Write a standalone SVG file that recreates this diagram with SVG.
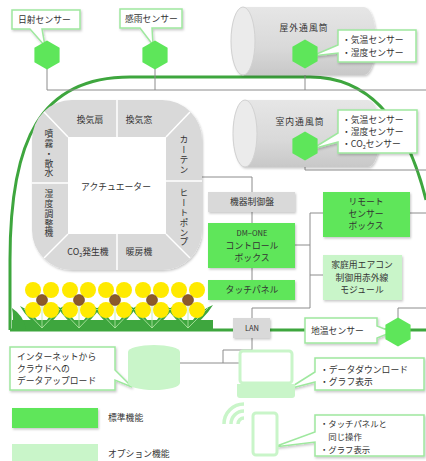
<svg xmlns="http://www.w3.org/2000/svg" width="426" height="461" viewBox="0 0 426 461">
<defs>
  <filter id="sh" x="-10%" y="-10%" width="130%" height="140%">
    <feDropShadow dx="1" dy="1.5" stdDeviation="1" flood-color="#000" flood-opacity="0.22"/>
  </filter>
  <linearGradient id="tube" x1="0" y1="0" x2="0" y2="1">
    <stop offset="0" stop-color="#e6e6e6"/>
    <stop offset="0.6" stop-color="#d9d9d9"/>
    <stop offset="1" stop-color="#c8c8c8"/>
  </linearGradient>
  <polygon id="hex" points="0,-14.5 12.6,-7.2 12.6,7.2 0,14.5 -12.6,7.2 -12.6,-7.2"/>
</defs>
<style>
  text { font-family: "Noto Sans CJK JP", "Noto Sans", sans-serif; font-size: 8.8px; fill: #333; }
  .c { text-anchor: middle; }
  .vt { writing-mode: vertical-rl; text-anchor: middle; letter-spacing: 1px; }
  .wire { fill: none; stroke: #8c8c8c; stroke-width: 1; }
  .house { fill: none; stroke: #3ea63e; stroke-width: 3; }
  .std { fill: #5ee65a; }
  .opt { fill: #c9f5c9; }
  .gray { fill: #d9d9d9; }
  .callout { fill: #fff; stroke: #9ee89e; stroke-width: 1.5; }
  .hex { fill: #5ee65a; }
  .leaf { fill: #3ea63e; }
  .vein { stroke: #b8e8a8; stroke-width: 0.8; fill: none; }
  .petal { fill: #ffea00; }
  .eye { fill: #8b5a2b; stroke: #6b4220; stroke-width: 0.6; }
  .small { font-size: 8.4px; }
</style>

<!-- greenhouse outline and ground line -->
<g id="greenhouse">
  <path class="house" d="M10,330 L10,260 C10,140 40,77 130,77 L310,77 C365,77 405,115 426,200"/>
  <path class="house" d="M10,330 H426"/>
</g>

<!-- wiring -->
<g id="connectors" class="wire">
  <path d="M47,69 V90 H426"/>
  <path d="M155,69 V90"/>
  <path d="M305,68 V90"/>
  <path d="M305,160 V170 H426"/>
  <path d="M410,213 H426"/>
  <path d="M398,318 V308 H426"/>
  <path d="M165,177 H252 V192"/>
  <path d="M252,212 V223"/>
  <path d="M252,268 V280"/>
  <path d="M295,245 H310"/>
  <path d="M310,213 V308 H252 V318"/>
  <path d="M310,213 H323"/>
  <path d="M310,275 H323"/>
  <path d="M252,338 V350 H223 V363"/>
  <path d="M180,363 H240"/>
</g>

<!-- outdoor ventilation tube -->
<g id="outdoor-tube">
  <path d="M243,7 H364 A12,34 0 0 1 364,75 H243 A12,34 0 0 1 243,7 Z" fill="url(#tube)" filter="url(#sh)"/>
  <ellipse cx="243" cy="41" rx="12" ry="34" fill="#ebebeb" stroke="#d2d2d2" stroke-width="1"/>
  <text class="c" x="304" y="31" style="letter-spacing:1px">屋外通風筒</text>
</g>
<g id="outdoor-sensors">
  <path class="callout" filter="url(#sh)" d="M338,30 H416 V62 H338 V53 L312,56 L338,45 Z"/>
  <text x="342" y="43">・気温センサー</text>
  <text x="342" y="56">・湿度センサー</text>
  <use href="#hex" class="hex" x="305" y="54"/>
</g>

<!-- indoor ventilation tube -->
<g id="indoor-tube">
  <path d="M245,100 H368 A12,33.5 0 0 1 368,167 H245 A12,33.5 0 0 1 245,100 Z" fill="url(#tube)" filter="url(#sh)"/>
  <ellipse cx="245" cy="133.5" rx="12" ry="33.5" fill="#ebebeb" stroke="#d2d2d2" stroke-width="1"/>
  <text class="c" x="300" y="125" style="letter-spacing:1px">室内通風筒</text>
</g>
<g id="indoor-sensors">
  <path class="callout" filter="url(#sh)" d="M338,110 H417 V153 H338 V142 L312,149 L338,133 Z"/>
  <text x="342" y="123">・気温センサー</text>
  <text x="342" y="135">・湿度センサー</text>
  <text x="342" y="147">・CO<tspan font-size="5.5" dy="2">2</tspan><tspan dy="-2">センサー</tspan></text>
  <use href="#hex" class="hex" x="305" y="146"/>
</g>

<!-- solar radiation sensor -->
<g id="solar-sensor">
  <path class="callout" filter="url(#sh)" d="M12,10 H80 V29 H42 L45,46 L30,29 H12 Z"/>
  <text x="18" y="23">日射センサー</text>
  <use href="#hex" class="hex" x="47" y="55"/>
</g>

<!-- rain sensor -->
<g id="rain-sensor">
  <path class="callout" filter="url(#sh)" d="M120,9 H182 V28 H152 L153,45 L140,28 H120 Z"/>
  <text x="125" y="22">感雨センサー</text>
  <use href="#hex" class="hex" x="155" y="55"/>
</g>

<!-- actuator ring -->
<g id="actuator">
  <rect x="32" y="100" width="170" height="170" rx="40" class="gray" filter="url(#sh)"/>
  <rect x="68" y="137" width="98" height="97" fill="#fff"/>
  <g stroke="#fff" stroke-width="1.5">
    <line x1="117" y1="100" x2="117" y2="137"/>
    <line x1="117" y1="234" x2="117" y2="270"/>
    <line x1="32" y1="183" x2="68" y2="183"/>
    <line x1="166" y1="181" x2="202" y2="181"/>
    <line x1="68" y1="137" x2="44" y2="112"/>
    <line x1="166" y1="137" x2="190" y2="112"/>
    <line x1="68" y1="234" x2="44" y2="258"/>
    <line x1="166" y1="234" x2="190" y2="258"/>
  </g>
  <text class="c" x="90" y="123">換気扇</text>
  <text class="c" x="139" y="123">換気窓</text>
  <text class="vt" x="49" y="154">噴霧・散水</text>
  <text class="vt" x="49" y="214">湿度調整機</text>
  <text class="vt" x="184" y="155">カーテン</text>
  <text class="vt" x="184" y="218">ヒートポンプ</text>
  <text class="c" x="116" y="190">アクチュエーター</text>
  <text class="c" x="88" y="255">CO<tspan font-size="5.5" dy="2">2</tspan><tspan dy="-2">発生機</tspan></text>
  <text class="c" x="139" y="255">暖房機</text>
</g>

<!-- crop row -->
<g id="plants">
  <rect x="12" y="320" width="201" height="9" class="leaf"/>
  <g id="leaves">
    <path class="leaf" d="M12,329 Q14,318 12,308 Q24,316 26,329 Z"/>
    <path class="leaf" d="M42,329 Q36,313 20,306 Q28,320 42,329 Z M42,329 Q48,313 64,306 Q56,320 42,329 Z"/>
    <path class="leaf" d="M79,329 Q73,313 57,306 Q65,320 79,329 Z M79,329 Q85,313 101,306 Q93,320 79,329 Z"/>
    <path class="leaf" d="M115,329 Q109,313 93,306 Q101,320 115,329 Z M115,329 Q121,313 137,306 Q129,320 115,329 Z"/>
    <path class="leaf" d="M152,329 Q146,313 130,306 Q138,320 152,329 Z M152,329 Q158,313 174,306 Q166,320 152,329 Z"/>
    <path class="leaf" d="M188,329 Q182,313 166,306 Q174,320 188,329 Z M188,329 Q194,313 213,305 Q204,320 188,329 Z"/>
  </g>
  <g class="vein">
    <path d="M42,306 V328 M42,328 L24,309 M42,328 L60,309"/>
    <path d="M79,306 V328 M79,328 L61,309 M79,328 L97,309"/>
    <path d="M115,306 V328 M115,328 L97,309 M115,328 L133,309"/>
    <path d="M152,306 V328 M152,328 L134,309 M152,328 L170,309"/>
    <path d="M188,306 V328 M188,328 L170,309 M188,328 L208,308"/>
  </g>
  <g id="flowers">
    <g class="petal">
      <circle cx="33" cy="290" r="8"/><circle cx="51" cy="290" r="8"/><circle cx="33" cy="310" r="8"/><circle cx="51" cy="310" r="8"/>
      <circle cx="70" cy="290" r="8"/><circle cx="88" cy="290" r="8"/><circle cx="70" cy="310" r="8"/><circle cx="88" cy="310" r="8"/>
      <circle cx="106" cy="290" r="8"/><circle cx="124" cy="290" r="8"/><circle cx="106" cy="310" r="8"/><circle cx="124" cy="310" r="8"/>
      <circle cx="143" cy="290" r="8"/><circle cx="161" cy="290" r="8"/><circle cx="143" cy="310" r="8"/><circle cx="161" cy="310" r="8"/>
      <circle cx="179" cy="290" r="8"/><circle cx="197" cy="290" r="8"/><circle cx="179" cy="310" r="8"/><circle cx="197" cy="310" r="8"/>
    </g>
    <circle class="eye" cx="42" cy="300" r="5.5"/>
    <circle class="eye" cx="79" cy="300" r="5.5"/>
    <circle class="eye" cx="115" cy="300" r="5.5"/>
    <circle class="eye" cx="152" cy="300" r="5.5"/>
    <circle class="eye" cx="188" cy="300" r="5.5"/>
  </g>
</g>

<!-- control units -->
<g id="panel-board">
  <rect x="208" y="192" width="87" height="20" class="gray" filter="url(#sh)"/>
  <text class="c" x="252" y="205">機器制御盤</text>
</g>
<g id="dm-one">
  <rect x="208" y="223" width="87" height="45" class="std" filter="url(#sh)"/>
  <text class="c" x="252" y="236" style="font-size:7.5px">DM−ONE</text>
  <text class="c" x="252" y="249">コントロール</text>
  <text class="c" x="252" y="261">ボックス</text>
</g>
<g id="touch-panel">
  <rect x="208" y="280" width="87" height="20" class="std" filter="url(#sh)"/>
  <text class="c" x="252" y="293">タッチパネル</text>
</g>
<g id="remote-box">
  <rect x="323" y="192" width="87" height="45" class="std" filter="url(#sh)"/>
  <text class="c" x="366" y="205">リモート</text>
  <text class="c" x="366" y="217">センサー</text>
  <text class="c" x="366" y="229">ボックス</text>
</g>
<g id="aircon-module">
  <rect x="323" y="255" width="79" height="45" class="opt" filter="url(#sh)"/>
  <text class="c" x="362" y="268">家庭用エアコン</text>
  <text class="c" x="362" y="281">制御用赤外線</text>
  <text class="c" x="362" y="293">モジュール</text>
</g>
<g id="lan">
  <rect x="233" y="318" width="37" height="20" class="gray" filter="url(#sh)"/>
  <text class="c" x="252" y="331" style="font-size:7.5px">LAN</text>
</g>

<!-- soil temperature sensor -->
<g id="soil-sensor">
  <path class="callout" filter="url(#sh)" d="M305,318 H377 V326 L392,332 L377,338 V343 H305 Z"/>
  <text x="311" y="334">地温センサー</text>
  <use href="#hex" class="hex" x="398" y="332"/>
</g>

<!-- cloud upload -->
<g id="cloud">
  <path class="callout" filter="url(#sh)" d="M10,347 H115 V370 L132,387 L115,380 V390 H10 Z"/>
  <text x="17" y="360">インターネットから</text>
  <text x="17" y="372">クラウドへの</text>
  <text x="17" y="384">データアップロード</text>
  <path class="opt" d="M128,352 A26,7 0 0 1 180,352 V383 A26,7 0 0 1 128,383 Z"/>
</g>

<!-- PC -->
<g id="laptop">
  <path class="callout" filter="url(#sh)" d="M315,358 H424 V390 H315 V382 L288,389 L315,372 Z"/>
  <text x="320" y="373">・データダウンロード</text>
  <text x="320" y="385">・グラフ表示</text>
  <rect x="240" y="351" width="52" height="32" rx="3" fill="#fff" stroke="#c9f5c9" stroke-width="3"/>
  <path class="opt" d="M237,384 H295 V395 Q295,398 292,398 H240 Q237,398 237,395 Z"/>
</g>

<!-- smartphone -->
<g id="phone">
  <path class="callout" filter="url(#sh)" d="M315,415 H424 V456 H315 V442 L274,447 L315,432 Z"/>
  <text class="small" x="320" y="427">・タッチパネルと</text>
  <text class="small" x="320" y="440">　同じ操作</text>
  <text class="small" x="320" y="453">・グラフ表示</text>
  <g fill="none" stroke="#c9f5c9" stroke-width="3.5">
    <path d="M238,424 A6,6 0 0 1 244,418"/>
    <path d="M231,424 A13,13 0 0 1 244,411"/>
    <path d="M224,424 A20,20 0 0 1 244,404"/>
  </g>
  <rect x="253" y="413" width="24" height="42" rx="3" fill="#fff" stroke="#c9f5c9" stroke-width="3"/>
</g>

<!-- legend -->
<g id="legend">
  <rect x="12" y="408" width="86" height="20" class="std" filter="url(#sh)"/>
  <text x="108" y="421">標準機能</text>
  <rect x="12" y="444" width="86" height="20" class="opt"/>
  <text x="108" y="457">オプション機能</text>
</g>
</svg>
